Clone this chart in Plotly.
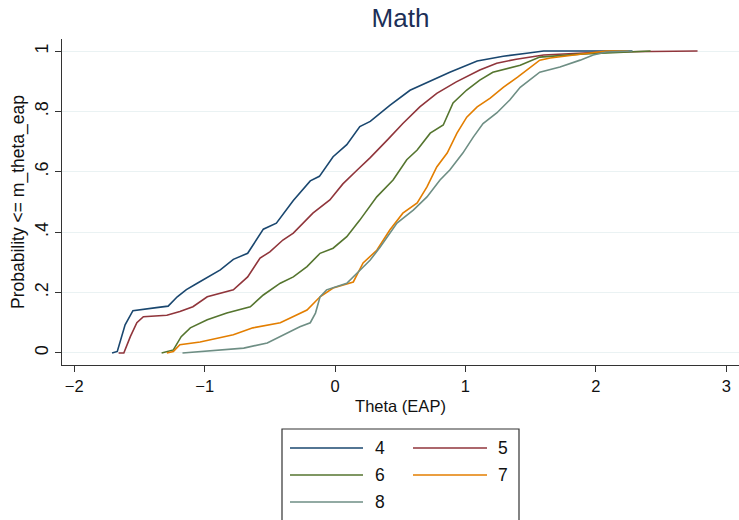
import plotly.graph_objects as go

# Cumulative distribution of EAP theta estimates by grade
grades = ["4", "5", "6", "7", "8"]

theta_4 = [-1.71, -1.67, -1.61, -1.55, -1.37, -1.28, -1.21, -1.14, -1.06, -0.98, -0.88, -0.78,
           -0.67, -0.55, -0.45, -0.32, -0.25, -0.19, -0.12, -0.015, 0.09, 0.19, 0.27, 0.42,
           0.575, 0.73, 0.88, 1.09, 1.29, 1.47, 1.60, 2.28]
prob_4 = [0.0, 0.005, 0.093, 0.14, 0.15, 0.155, 0.186, 0.21, 0.23, 0.25, 0.275, 0.31,
          0.33, 0.41, 0.43, 0.505, 0.54, 0.57, 0.585, 0.65, 0.69, 0.75, 0.767, 0.82,
          0.87, 0.90, 0.93, 0.967, 0.983, 0.993, 1.0, 1.0]

theta_5 = [-1.66, -1.62, -1.57, -1.52, -1.47, -1.29, -1.19, -1.09, -0.98, -0.78, -0.67, -0.575,
           -0.50, -0.40, -0.32, -0.245, -0.17, -0.04, 0.06, 0.17, 0.27, 0.40, 0.52, 0.65,
           0.78, 0.93, 1.11, 1.24, 1.39, 1.60, 1.86, 2.06, 2.78]
prob_5 = [0.0, 0.0, 0.054, 0.10, 0.12, 0.125, 0.137, 0.153, 0.186, 0.209, 0.252, 0.314,
          0.335, 0.374, 0.397, 0.43, 0.463, 0.507, 0.56, 0.606, 0.647, 0.705, 0.76, 0.815,
          0.86, 0.898, 0.937, 0.96, 0.973, 0.987, 0.993, 0.997, 1.0]

theta_6 = [-1.33, -1.24, -1.18, -1.11, -0.98, -0.83, -0.65, -0.55, -0.42, -0.32, -0.215, -0.115,
           -0.015, 0.09, 0.19, 0.32, 0.445, 0.55, 0.63, 0.73, 0.83, 0.905, 1.01, 1.11,
           1.21, 1.37, 1.42, 1.57, 1.88, 2.42]
prob_6 = [0.0, 0.01, 0.054, 0.083, 0.11, 0.132, 0.153, 0.192, 0.231, 0.252, 0.286, 0.33,
          0.347, 0.385, 0.44, 0.517, 0.573, 0.64, 0.672, 0.728, 0.755, 0.828, 0.871, 0.904,
          0.93, 0.947, 0.953, 0.98, 0.99, 1.0]

theta_7 = [-1.29, -1.24, -1.19, -1.035, -0.78, -0.63, -0.42, -0.32, -0.215, -0.115, -0.015, 0.14,
           0.215, 0.32, 0.42, 0.52, 0.63, 0.705, 0.78, 0.86, 0.935, 1.01, 1.09, 1.19,
           1.29, 1.40, 1.57, 1.65, 1.83, 2.08, 2.25]
prob_7 = [0.0, 0.005, 0.027, 0.036, 0.06, 0.083, 0.10, 0.12, 0.142, 0.186, 0.215, 0.235,
          0.298, 0.34, 0.407, 0.463, 0.497, 0.55, 0.616, 0.662, 0.728, 0.781, 0.815, 0.844,
          0.88, 0.914, 0.97, 0.977, 0.987, 1.0, 1.0]

theta_8 = [-1.17, -0.90, -0.70, -0.52, -0.40, -0.27, -0.19, -0.15, -0.115, -0.065, 0.09, 0.19,
           0.27, 0.345, 0.475, 0.60, 0.705, 0.805, 0.88, 0.98, 1.06, 1.135, 1.24, 1.34,
           1.42, 1.57, 1.725, 1.88, 1.98, 2.08, 2.28]
prob_8 = [0.0, 0.01, 0.016, 0.033, 0.06, 0.087, 0.10, 0.132, 0.186, 0.209, 0.231, 0.275,
          0.308, 0.35, 0.43, 0.473, 0.517, 0.573, 0.606, 0.662, 0.715, 0.76, 0.795, 0.838,
          0.88, 0.93, 0.947, 0.97, 0.987, 0.997, 1.0]

y_tick_vals = [0, 0.2, 0.4, 0.6, 0.8, 1]
y_tick_text = ["0", ".2", ".4", ".6", ".8", "1"]
x_tick_vals = [-2, -1, 0, 1, 2, 3]
x_tick_text = ["\u22122", "\u22121", "0", "1", "2", "3"]

series = [
    (theta_4, prob_4, "#1a476f"),
    (theta_5, prob_5, "#90353b"),
    (theta_6, prob_6, "#55752f"),
    (theta_7, prob_7, "#e37e00"),
    (theta_8, prob_8, "#6e8e84"),
]

FONT = "Liberation Sans, Arial, sans-serif"

fig = go.Figure()
for grade, (xs, ys, color) in zip(grades, series):
    fig.add_trace(go.Scatter(x=xs, y=ys, mode="lines", name=grade,
                             line=dict(color=color, width=1.6), showlegend=False))

fig.update_layout(
    width=739, height=520,
    margin=dict(l=62, r=0, t=39, b=155),
    paper_bgcolor="white", plot_bgcolor="white",
    font=dict(family=FONT, color="#111111"),
    title=dict(text="Math", xref="paper", x=0.5, xanchor="center",
               yref="container", y=0.966, yanchor="middle",
               font=dict(size=26, color="#1c2f57", family=FONT)),
)

fig.update_xaxes(
    range=[-2.094, 3.098], tickvals=x_tick_vals, ticktext=x_tick_text,
    showgrid=False, zeroline=False, showline=True, linecolor="#333333", linewidth=1.3,
    ticks="outside", ticklen=6, tickcolor="#333333", tickwidth=1.2,
    tickfont=dict(size=16.5, family=FONT),
    title=dict(text="Theta (EAP)", font=dict(size=16.5, family=FONT), standoff=6),
)
fig.update_yaxes(
    range=[-0.04, 1.04], tickvals=y_tick_vals, ticktext=y_tick_text, tickangle=-90,
    showgrid=True, gridcolor="#eaf2f3", gridwidth=1.3, zeroline=False,
    showline=True, linecolor="#333333", linewidth=1.3,
    ticks="outside", ticklen=6, tickcolor="#333333", tickwidth=1.2,
    tickfont=dict(size=18, family=FONT),
    title=dict(text="Probability <= m_theta_eap", font=dict(size=17.5, family=FONT), standoff=2),
)

# Legend box below the plot, two columns
plot_top, plot_bottom = 39, 365
def py_to_paper(py):
    return (plot_bottom - py) / (plot_bottom - plot_top)

fig.add_shape(type="rect", xref="paper", yref="paper",
              x0=(282 - 62) / 677, x1=(519 - 62) / 677,
              y0=py_to_paper(540), y1=py_to_paper(429),
              line=dict(color="#333333", width=1.2), fillcolor="white", layer="above")

rows_py = [448, 475, 502]
cols = [(290, 363, 380), (413, 487, 503)]
for i, (grade, (_, _, color)) in enumerate(zip(grades, series)):
    r, c = divmod(i, 2)
    lx0, lx1, tx = cols[c]
    yy = py_to_paper(rows_py[r])
    fig.add_shape(type="line", xref="paper", yref="paper",
                  x0=(lx0 - 62) / 677, x1=(lx1 - 62) / 677, y0=yy, y1=yy,
                  line=dict(color=color, width=1.6), layer="above")
    fig.add_annotation(text=grade, xref="paper", yref="paper",
                       x=(tx - 62) / 677, y=yy, xanchor="center", yanchor="middle",
                       showarrow=False, font=dict(size=17.5, family=FONT, color="#111111"))

fig.write_html("out.html")
